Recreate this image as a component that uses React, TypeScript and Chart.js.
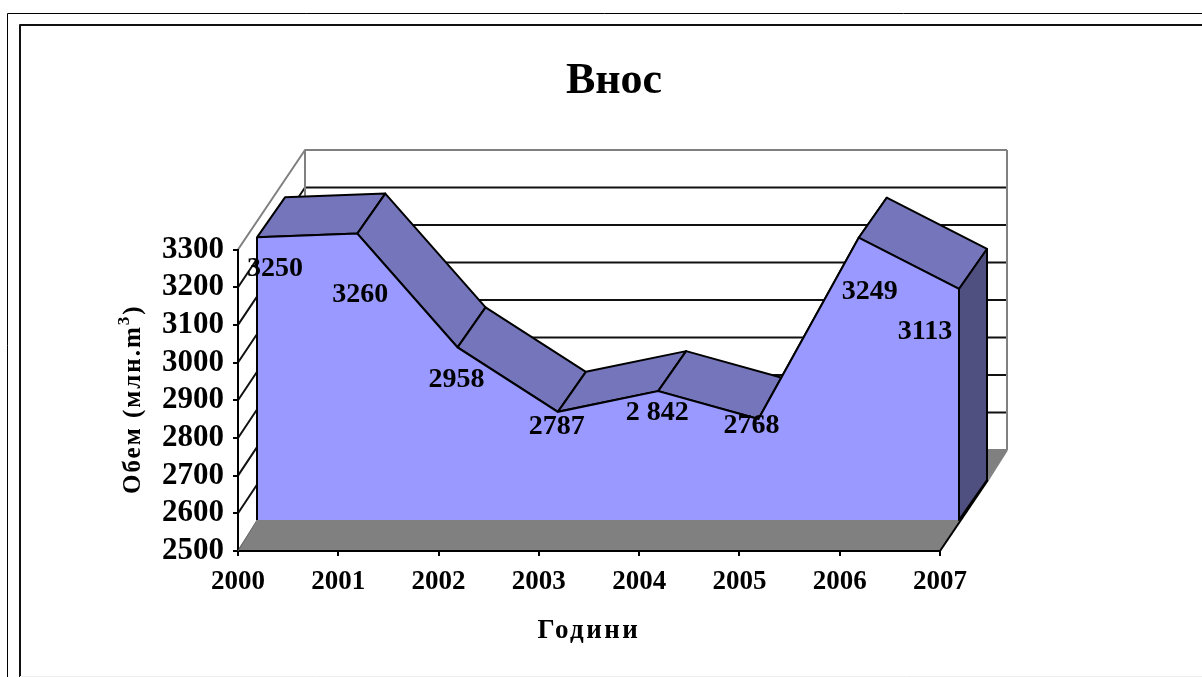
import React, { useEffect, useRef } from "react";
import { Chart, registerables } from "chart.js";

Chart.register(...registerables);

const categories = ["2000", "2001", "2002", "2003", "2004", "2005", "2006", "2007"];
const values = [3250, 3260, 2958, 2787, 2842, 2768, 3249, 3113];
const dataLabels = ["3250", "3260", "2958", "2787", "2 842", "2768", "3249", "3113"];
const labelOffsetX = [18, 3, -1, -1, -1, -7, 11, -34];
const labelOffsetY = [31, 61, 32, 15, 22, 7, 54, 43];
const chartTitle = "Внос";
const xTitle = "Години";
const yTitle = "Обем (млн.m";
const yTitleSup = "3";
const yTitleEnd = ")";

const SERIF = "'Liberation Serif', 'Times New Roman', serif";
const FRONT = { x: 19, y: -31 };
const DEPTH = { x: 28, y: -40 };
const BACK = { x: 67, y: -101 };

function poly(ctx: CanvasRenderingContext2D, pts: number[][], fill?: string, stroke?: string, lw = 2) {
  ctx.beginPath();
  pts.forEach((p, i) => (i ? ctx.lineTo(p[0], p[1]) : ctx.moveTo(p[0], p[1])));
  if (fill) {
    ctx.closePath();
    ctx.fillStyle = fill;
    ctx.fill();
  }
  if (stroke) {
    ctx.strokeStyle = stroke;
    ctx.lineWidth = lw;
    ctx.lineJoin = "round";
    ctx.stroke();
  }
}

const framePlugin = {
  id: "frame",
  beforeDraw(chart: any) {
    const ctx = chart.ctx as CanvasRenderingContext2D;
    const { left, right, top, bottom } = chart.chartArea;
    const w = chart.width;
    const h = chart.height;
    ctx.save();
    ctx.fillStyle = "#ffffff";
    ctx.fillRect(0, 0, w, h);
    // page frames
    poly(ctx, [[7.5, h], [7.5, 13.5], [w, 13.5]], undefined, "#000000", 1);
    poly(ctx, [[20, h], [20, 25], [w, 25]], undefined, "#111111", 2);
    poly(ctx, [[20, h - 0.5], [w, h - 0.5]], undefined, "#eeeeee", 1);
    // floor
    poly(
      ctx,
      [[left, bottom], [right, bottom], [right + BACK.x, bottom + BACK.y], [left + BACK.x, bottom + BACK.y]],
      "#808080"
    );
    // gridlines on side and back wall
    const ys = chart.scales.y;
    const ticks = ys.ticks;
    const backBottom = bottom + BACK.y;
    const backTop = top + BACK.y + 1.5;
    ticks.forEach((t: any) => {
      const py = ys.getPixelForValue(t.value);
      const frac = (bottom - py) / (bottom - top);
      const by = backBottom - frac * (backBottom - backTop);
      const isEdge = t.value === ys.min || t.value === ys.max;
      poly(
        ctx,
        [[left, py], [left + BACK.x, by], [right + BACK.x, by]],
        undefined,
        isEdge ? "#808080" : "#111111",
        2
      );
    });
    // wall edges
    poly(ctx, [[left + BACK.x, backTop], [left + BACK.x, backBottom]], undefined, "#808080", 2);
    poly(ctx, [[right + BACK.x, backTop], [right + BACK.x, backBottom]], undefined, "#808080", 2);
    poly(ctx, [[right + 48, bottom - 71], [right + BACK.x, backBottom]], undefined, "#808080", 2);
    ctx.restore();
  },
  beforeDatasetsDraw(chart: any) {
    const ctx = chart.ctx as CanvasRenderingContext2D;
    const pts = chart.getDatasetMeta(0).data;
    ctx.save();
    ctx.translate(FRONT.x, FRONT.y);
    for (let i = 0; i < pts.length - 1; i++) {
      const a = pts[i];
      const b = pts[i + 1];
      poly(
        ctx,
        [[a.x, a.y], [a.x + DEPTH.x, a.y + DEPTH.y], [b.x + DEPTH.x, b.y + DEPTH.y], [b.x, b.y]],
        "#7575BB",
        "#000000",
        2
      );
    }
    // right side face
    const last = pts[pts.length - 1];
    const base = chart.chartArea.bottom;
    poly(
      ctx,
      [[last.x, last.y], [last.x + DEPTH.x, last.y + DEPTH.y], [last.x + DEPTH.x, base + DEPTH.y], [last.x, base]],
      "#4F4F80",
      "#000000",
      2
    );
    ctx.restore();
    // the library draws the series on the front plane
    ctx.save();
    ctx.translate(FRONT.x, FRONT.y);
  },
  afterDatasetsDraw(chart: any) {
    const ctx = chart.ctx as CanvasRenderingContext2D;
    ctx.restore();
    const pts = chart.getDatasetMeta(0).data;
    const { bottom, right, left } = chart.chartArea;
    const first = pts[0];
    const last = pts[pts.length - 1];
    ctx.save();
    // front-plane verticals and the floor's right-hand edge
    poly(ctx, [[first.x + FRONT.x, first.y + FRONT.y], [first.x + FRONT.x, bottom + FRONT.y]], undefined, "#000000", 2);
    poly(ctx, [[last.x + FRONT.x, last.y + FRONT.y], [last.x + FRONT.x, bottom + FRONT.y]], undefined, "#000000", 2);
    poly(ctx, [[right, bottom], [right + 48, bottom - 71]], undefined, "#000000", 2);
    poly(ctx, [[left, bottom], [left + FRONT.x, bottom + FRONT.y]], undefined, "#666666", 1);
    // value labels
    ctx.fillStyle = "#000000";
    ctx.font = `bold 28px ${SERIF}`;
    ctx.textAlign = "center";
    ctx.textBaseline = "middle";
    pts.forEach((p: any, i: number) => {
      ctx.fillText(
        dataLabels[i],
        p.x + FRONT.x + labelOffsetX[i],
        p.y + FRONT.y + labelOffsetY[i]
      );
    });
    // axis titles
    ctx.textBaseline = "alphabetic";
    (ctx as any).letterSpacing = "2.5px";
    ctx.font = `bold 27px ${SERIF}`;
    ctx.fillText(xTitle, 589, 638);
    ctx.translate(140, 494);
    ctx.rotate(-Math.PI / 2);
    ctx.textAlign = "left";
    (ctx as any).letterSpacing = "2px";
    ctx.font = `bold 25px ${SERIF}`;
    ctx.fillText(yTitle, 0, 0);
    let x = ctx.measureText(yTitle).width;
    ctx.font = `bold 17px ${SERIF}`;
    ctx.fillText(yTitleSup, x, -11);
    x += ctx.measureText(yTitleSup).width;
    ctx.font = `bold 25px ${SERIF}`;
    ctx.fillText(yTitleEnd, x, 0);
    ctx.restore();
  },
};

export default function App() {
  const ref = useRef<HTMLCanvasElement | null>(null);
  useEffect(() => {
    const chart = new Chart(ref.current as HTMLCanvasElement, {
      type: "line",
      plugins: [framePlugin],
      data: {
        labels: categories,
        datasets: [
          {
            label: chartTitle,
            data: values,
            borderColor: "#000000",
            borderWidth: 2,
            backgroundColor: "#9999FF",
            fill: "origin",
            tension: 0,
            pointRadius: 0,
            clip: false,
          },
        ],
      },
      options: {
        animation: false,
        responsive: false,
        maintainAspectRatio: false,
        layout: { padding: { left: 26, right: 0, top: 0, bottom: 0 } },
        plugins: {
          legend: { display: false },
          tooltip: { enabled: false },
          title: {
            display: true,
            text: chartTitle,
            color: "#000000",
            font: { family: SERIF, size: 44, weight: "bold" },
            padding: { top: 55.5, bottom: 141.2 },
          },
        },
        scales: {
          x: {
            type: "category",
            offset: false,
            grid: { drawOnChartArea: false, drawTicks: true, tickLength: 5, color: "#000000", lineWidth: 2 },
            border: { color: "#000000", width: 2 },
            ticks: {
              color: "#000000",
              font: { family: SERIF, size: 27, weight: "bold" },
              padding: 10,
              autoSkip: false,
              maxRotation: 0,
            },
            afterFit(s: any) {
              s.height = 126;
            },
          },
          y: {
            min: 2500,
            max: 3300,
            grid: { drawOnChartArea: false, drawTicks: true, tickLength: 5, color: "#000000", lineWidth: 2 },
            border: { color: "#000000", width: 2 },
            ticks: {
              stepSize: 100,
              autoSkip: false,
              color: "#000000",
              font: { family: SERIF, size: 31, weight: "bold" },
              padding: 9,
              callback: (v: any) => String(v),
            },
            afterFit(s: any) {
              s.width = 212;
            },
          },
          spacer: {
            type: "linear",
            position: "right",
            grid: { display: false },
            border: { display: false },
            ticks: { display: false },
            afterFit(s: any) {
              s.width = 262;
            },
          },
        },
      },
    } as any);
    return () => chart.destroy();
  }, []);
  return (
    <div style={{ position: "fixed", left: 0, top: 0, width: 1202, height: 677, overflow: "hidden", background: "#fff" }}>
      <canvas ref={ref} width={1202} height={677} style={{ display: "block" }} />
    </div>
  );
}
